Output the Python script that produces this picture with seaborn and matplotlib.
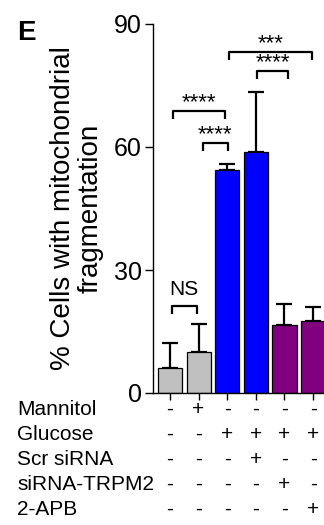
import matplotlib
matplotlib.use("Agg")
import matplotlib.pyplot as plt
import matplotlib.transforms as mtransforms
import seaborn as sns
import pandas as pd

# ---- data ----
groups = ["Control", "Mannitol", "Glucose", "Glucose+Scr siRNA",
          "Glucose+siRNA-TRPM2", "Glucose+2-APB"]
means = [6.1, 10.0, 54.4, 58.8, 16.6, 17.6]
sd = [6.1, 6.8, 1.4, 14.6, 5.1, 3.4]
colors = ["#c0c0c0", "#c0c0c0", "#0000ff", "#0000ff", "#800080", "#800080"]

y_ticks = [0, 30, 60, 90]

row_labels = ["Mannitol", "Glucose", "Scr siRNA", "siRNA-TRPM2", "2-APB"]
row_mannitol = ["-", "+", "-", "-", "-", "-"]
row_glucose = ["-", "-", "+", "+", "+", "+"]
row_scr = ["-", "-", "-", "+", "-", "-"]
row_sirna = ["-", "-", "-", "-", "+", "-"]
row_apb = ["-", "-", "-", "-", "-", "+"]

# significance annotations: (left end, right end, height, label)
sig_labels = ["NS", "****", "****", "****", "***"]
sig_x1 = [0.07, 1.15, 0.10, 3.04, 2.06]
sig_x2 = [0.94, 2.03, 1.92, 4.13, 4.97]
sig_y = [21.2, 61.0, 68.8, 78.5, 83.2]

# ---- style ----
sns.set_style("ticks")
plt.rcParams["font.family"] = ["Liberation Sans", "DejaVu Sans"]
for k in ["text.color", "axes.labelcolor", "xtick.color", "ytick.color",
          "axes.edgecolor"]:
    plt.rcParams[k] = "black"

fig = plt.figure(figsize=(3.24, 5.25), dpi=100)
ax = fig.add_axes([153 / 324, 1 - 393 / 525, 1 - 153 / 324, (393 - 24) / 525])

df = pd.DataFrame({"group": groups, "value": means})
sns.barplot(data=df, x="group", y="value", hue="group", palette=colors,
            saturation=1, legend=False, width=0.84, edgecolor="black",
            linewidth=0.9, errorbar=None, ax=ax, zorder=2)

xs = list(range(len(groups)))
ax.errorbar(xs, means, yerr=[[0] * len(sd), sd], fmt="none",
            ecolor="black", elinewidth=1.6, capsize=5.5, capthick=1.6,
            zorder=1)

ax.set_xlim(-0.59, 5.38)
ax.set_ylim(0, 90)
ax.set_yticks(y_ticks)
ax.set_yticklabels([str(t) for t in y_ticks], fontsize=18)
ax.set_xticks(xs)
ax.set_xticklabels([])
ax.set_xlabel("")
ax.tick_params(axis="y", length=6, width=1, pad=2, color="black")
ax.tick_params(axis="x", length=5, width=1, color="black")
sns.despine(ax=ax)
ax.spines["left"].set_linewidth(1.0)
ax.spines["bottom"].set_linewidth(1.0)

ax.set_ylabel("% Cells with mitochondrial\nfragmentation", fontsize=20,
              linespacing=1.05)
ax.yaxis.set_label_coords(-0.29, 0.5)

# significance brackets
leg = 2.0
for lab, x1, x2, y in zip(sig_labels, sig_x1, sig_x2, sig_y):
    ax.plot([x1, x1, x2, x2], [y - leg, y, y, y - leg], color="black",
            lw=1.6, solid_capstyle="butt", clip_on=False)
    if lab == "NS":
        ax.text((x1 + x2) / 2, y + 1.8, lab, ha="center", va="bottom",
                fontsize=15)
    else:
        ax.text((x1 + x2) / 2, y - 0.5, lab, ha="center", va="bottom",
                fontsize=16)

# panel letter
fig.text(17 / 324, 1 - 40 / 525, "E", fontsize=20, fontweight="bold",
         ha="left", va="baseline")

# condition table
trans = mtransforms.blended_transform_factory(ax.transData, fig.transFigure)
rows = [row_mannitol, row_glucose, row_scr, row_sirna, row_apb]
baselines = [415, 440, 465, 490, 515]
for lab, row, b in zip(row_labels, rows, baselines):
    yf = 1 - b / 525
    fig.text(17 / 324, yf, lab, fontsize=15, ha="left", va="baseline")
    for x, s in zip(xs, row):
        ax.text(x, yf, s, transform=trans, fontsize=15, ha="center",
                va="baseline", clip_on=False)

fig.savefig("out.png", dpi=100)
